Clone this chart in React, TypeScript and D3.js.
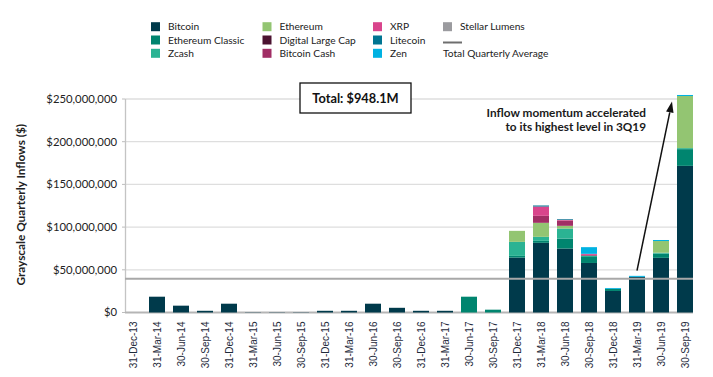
import React from "react";
import * as d3 from "d3";

const quarters = [
  "31-Dec-13","31-Mar-14","30-Jun-14","30-Sep-14","31-Dec-14","31-Mar-15","30-Jun-15","30-Sep-15",
  "31-Dec-15","31-Mar-16","30-Jun-16","30-Sep-16","31-Dec-16","31-Mar-17","30-Jun-17","30-Sep-17",
  "31-Dec-17","31-Mar-18","30-Jun-18","30-Sep-18","31-Dec-18","31-Mar-19","30-Jun-19","30-Sep-19",
];

// values in $M
const bitcoin =         [0,18.5,8,2,10.3,0.3,0.3,0.3, 2,2,10.3,5.5,2,2,0,0, 64.3,81.6,74.9,58,25.2,41.7,64,171.7];
const ethereumClassic = [0,0,0,0,0,0,0,0, 0,0,0,0,0,0,18.5,3.3, 2,2.3,11.7,7,2.5,0,5,19.6];
const zcash =           [0,0,0,0,0,0,0,0, 0,0,0,0,0,0,0,0, 16.4,4.7,11.7,1.5,0,0,1,1.2];
const ethereum =        [0,0,0,0,0,0,0,0, 0,0,0,0,0,0,0,0, 12.9,16.4,3.2,0,0,0,13.7,61];
const digitalLargeCap = [0,0,0,0,0,0,0,0, 0,0,0,0,0,0,0,0, 0,0,0,0,0,0,0,0];
const bitcoinCash =     [0,0,0,0,0,0,0,0, 0,0,0,0,0,0,0,0, 0,8.2,6.2,1,0,0,0,0];
const xrp =             [0,0,0,0,0,0,0,0, 0,0,0,0,0,0,0,0, 0,10.9,0.8,1.2,0,0,0,0];
const litecoin =        [0,0,0,0,0,0,0,0, 0,0,0,0,0,0,0,0, 0,1.2,0.8,0,0,0,0,0];
const zen =             [0,0,0,0,0,0,0,0, 0,0,0,0,0,0,0,0, 0,0,0,7.8,1,1.2,1.2,1.2];
const stellarLumens =   [0,0,0,0,0,0,0,0, 0,0,0,0,0,0,0,0, 0,0,0,0,0,0,0,0];

const seriesNames = ["Bitcoin","Ethereum Classic","Zcash","Ethereum","Digital Large Cap","Bitcoin Cash","XRP","Litecoin","Zen","Stellar Lumens"];
const seriesValues = [bitcoin, ethereumClassic, zcash, ethereum, digitalLargeCap, bitcoinCash, xrp, litecoin, zen, stellarLumens];
const seriesColors = ["#003a4b","#00856f","#2bb393","#93c572","#4b1230","#a12e65","#d9458c","#007592","#00b2e2","#9b9b9f"];

const yTicks = [0, 50, 100, 150, 200, 250];
const totalLabel = "Total: $948.1M";
const totalValue = 948.1;
const annotationLines = ["Inflow momentum accelerated", "to its highest level in 3Q19"];

const W = 713, H = 377;
const FONT = "Lato, 'Open Sans', sans-serif";

export default function App() {
  const rows = quarters.map((q, i) => {
    const r: any = { q };
    seriesNames.forEach((n, k) => (r[n] = seriesValues[k][i]));
    return r;
  });
  const stacked = d3.stack().keys(seriesNames)(rows);
  const x = d3.scaleBand().domain(quarters).range([121, 697]).paddingInner(1 / 3).paddingOuter(1 / 6);
  const y = d3.scaleLinear().domain([0, 250]).range([312.5, 99]);
  const left = x(quarters[0])!;
  const right = x(quarters[quarters.length - 1])! + x.bandwidth();
  const avg = totalValue / quarters.length;
  const fmt = (v: number) => "$" + d3.format(",")(v * 1e6);

  // annotation arrow
  const ax1 = x("31-Mar-19")! + x.bandwidth() / 2;
  const ay1 = y(49);
  const ax2 = x("30-Sep-19")! - 5;
  const ay2 = y(247);
  const ang = Math.atan2(ay2 - ay1, ax2 - ax1);
  const hl = 11, hw = 3.8;
  const bx = ax2 - hl * Math.cos(ang), by = ay2 - hl * Math.sin(ang);
  const head = [
    [ax2, ay2],
    [bx + hw * Math.sin(ang), by - hw * Math.cos(ang)],
    [bx - hw * Math.sin(ang), by + hw * Math.cos(ang)],
  ];

  const legendCols = [151, 262.5, 373, 443];
  const legendRows = [26.7, 40, 53.3];

  return (
    <svg width={W} height={H} style={{ position: "absolute", left: 0, top: 0, background: "#fff" }}>
      {/* gridlines */}
      {yTicks.filter((t) => t > 0).map((t) => (
        <line key={t} x1={left} x2={right} y1={y(t)} y2={y(t)} stroke="#dedede" strokeWidth={1.3} />
      ))}
      {/* y axis */}
      <line x1={left + 0.5} x2={left + 0.5} y1={y(250)} y2={y(0)} stroke="#c4c4c4" strokeWidth={1.3} />
      {yTicks.map((t) => (
        <g key={t}>
          <line x1={left - 3} x2={left} y1={y(t)} y2={y(t)} stroke="#bdbdbd" strokeWidth={1} />
          <text x={117} y={y(t)} dy="0.35em" textAnchor="end" fontFamily={FONT} fontSize={11.3} fill="#222">
            {fmt(t)}
          </text>
        </g>
      ))}
      <text
        transform={`translate(25,${(y(250) + y(0)) / 2 - 1}) rotate(-90)`}
        textAnchor="middle"
        fontFamily={FONT}
        fontWeight="bold"
        fontSize={11.8}
        fill="#222"
      >
        Grayscale Quarterly Inflows ($)
      </text>
      {/* baseline */}
      <line x1={left} x2={right} y1={y(0)} y2={y(0)} stroke="#b5b5b5" strokeWidth={2} />
      {/* bars */}
      {stacked.map((s, k) => (
        <g key={s.key} fill={seriesColors[k]}>
          {s.map((d, i) =>
            d[1] - d[0] > 0 ? (
              <rect key={i} x={x(quarters[i])} width={x.bandwidth()} y={y(d[1])} height={y(d[0]) - y(d[1])} />
            ) : null
          )}
        </g>
      ))}
      {/* average line */}
      <line x1={left} x2={right} y1={y(avg)} y2={y(avg)} stroke="#a8a8a8" strokeWidth={2.2} />
      {/* x labels */}
      {quarters.map((q) => (
        <text
          key={q}
          transform={`translate(${x(q)! + x.bandwidth() / 2 + 3.5},${y(0) + 9}) rotate(-90)`}
          textAnchor="end"
          fontFamily="'Liberation Sans', Arial, sans-serif"
          fontSize={10}
          fill="#1e2a3a"
        >
          {q}
        </text>
      ))}
      {/* total box */}
      <rect x={300} y={83} width={111} height={30} fill="#fff" stroke="#111" strokeWidth={1.3} />
      <text x={355.5} y={102.5} textAnchor="middle" fontFamily={FONT} fontWeight="bold" fontSize={12.8} fill="#111">
        {totalLabel}
      </text>
      {/* annotation */}
      {annotationLines.map((l, i) => (
        <text key={i} x={646} y={116.5 + i * 14} textAnchor="end" fontFamily={FONT} fontWeight="bold" fontSize={11.8} fill="#1a1a1a">
          {l}
        </text>
      ))}
      <line x1={ax1} y1={ay1} x2={bx} y2={by} stroke="#111" strokeWidth={1.5} />
      <polygon points={head.map((p) => p.join(",")).join(" ")} fill="#111" />
      {/* legend */}
      {seriesNames.map((n, k) => {
        const col = Math.floor(k / 3), row = k % 3;
        const lx = legendCols[col], ly = legendRows[row];
        return (
          <g key={n}>
            <rect x={lx} y={ly - 4.5} width={9} height={9} fill={seriesColors[k]} />
            <text x={lx + 17} y={ly} dy="0.35em" fontFamily={FONT} fontSize={10.2} fill="#222">
              {n}
            </text>
          </g>
        );
      })}
      <line x1={legendCols[3]} x2={legendCols[3] + 19} y1={legendRows[1] + 2.5} y2={legendRows[1] + 2.5} stroke="#6e6e6e" strokeWidth={2} />
      <text x={legendCols[3]} y={legendRows[2]} dy="0.35em" fontFamily={FONT} fontSize={10.2} fill="#222">
        Total Quarterly Average
      </text>
    </svg>
  );
}
